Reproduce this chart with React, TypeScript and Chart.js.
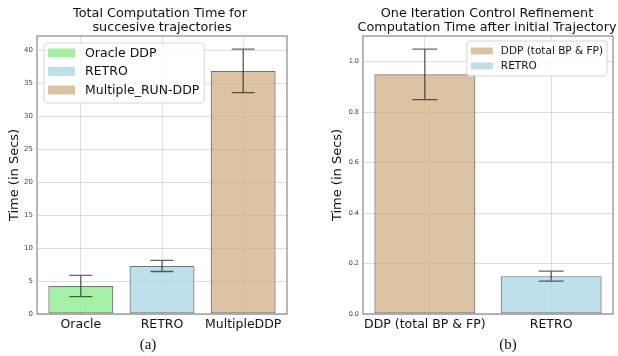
import React, { useEffect, useRef } from "react";
import { Chart, registerables } from "chart.js";

Chart.register(...registerables);

// ---- Data: panel (a) ----
const leftCategories = ["Oracle", "RETRO", "MultipleDDP"];
const leftLegendLabels = ["Oracle DDP", "RETRO", "Multiple_RUN-DDP"];
const leftValues = [4.25, 7.3, 36.9];
const leftErrors = [1.6, 0.85, 3.3];
const leftTicks = [0, 5, 10, 15, 20, 25, 30, 35, 40];
const leftYMax = 42.2;
const leftTitle = "Total Computation Time for\n succesive trajectories";

// ---- Data: panel (b) ----
const rightCategories = ["DDP (total BP & FP)", "RETRO"];
const rightLegendLabels = ["DDP (total BP & FP)", "RETRO"];
const rightValues = [0.95, 0.15];
const rightErrors = [0.1, 0.02];
const rightTicks = [0, 0.2, 0.4, 0.6, 0.8, 1.0];
const rightYMax = 1.102;
const rightTitle = "One Iteration Control Refinement\nComputation Time after initial Trajectory";

const yLabel = "Time (in Secs)";

const GREEN = "rgba(144,238,144,0.8)";
const BLUE = "rgba(173,216,230,0.8)";
const TAN = "rgba(210,180,140,0.8)";
const leftColors = [GREEN, BLUE, TAN];
const rightColors = [TAN, BLUE];

const FONT = '"DejaVu Sans", sans-serif';

type LegendSpec = {
  dx: number;
  dy: number;
  alignRight: boolean;
  fontSize: number;
  rowH: number;
  firstRow: number;
  swW: number;
  swH: number;
  swX: number;
  textX: number;
  padR: number;
  h: number;
};

type PanelSpec = {
  categories: string[];
  legendLabels: string[];
  values: number[];
  errors: number[];
  colors: string[];
  ticks: number[];
  yMax: number;
  xMin: number;
  xMax: number;
  decimals: number;
  padding: { left: number; right: number; top: number; bottom: number };
  yWidth: number;
  xHeight: number;
  yTickSize: number;
  capHalf: number;
  legend: LegendSpec;
};

function makeConfig(p: PanelSpec): any {
  const extras = {
    id: "extras",
    afterDatasetsDraw(chart: any) {
      const ctx = chart.ctx;
      const meta = chart.getDatasetMeta(0);
      const ys = chart.scales.y;
      ctx.save();
      ctx.strokeStyle = "rgba(0,0,0,0.6)";
      ctx.lineWidth = 1.3;
      p.values.forEach((v, i) => {
        const el = meta.data[i];
        if (!el) return;
        const x = el.x;
        const yt = ys.getPixelForValue(v + p.errors[i]);
        const yb = ys.getPixelForValue(v - p.errors[i]);
        ctx.beginPath();
        ctx.moveTo(x, yt);
        ctx.lineTo(x, yb);
        ctx.moveTo(x - p.capHalf, yt);
        ctx.lineTo(x + p.capHalf, yt);
        ctx.moveTo(x - p.capHalf, yb);
        ctx.lineTo(x + p.capHalf, yb);
        ctx.stroke();
      });
      ctx.restore();
    },
    afterDraw(chart: any) {
      const ctx = chart.ctx;
      const a = chart.chartArea;
      ctx.save();
      // frame
      ctx.strokeStyle = "#8a8a8a";
      ctx.lineWidth = 1.2;
      ctx.strokeRect(a.left, a.top, a.right - a.left, a.bottom - a.top);
      // legend
      const L = p.legend;
      ctx.font = `${L.fontSize}px ${FONT}`;
      const maxW = Math.max(...p.legendLabels.map((t) => ctx.measureText(t).width));
      const w = L.textX + maxW + L.padR;
      const bx = L.alignRight ? a.right - L.dx - w : a.left + L.dx;
      const by = a.top + L.dy;
      ctx.beginPath();
      if (ctx.roundRect) ctx.roundRect(bx, by, w, L.h, 3);
      else ctx.rect(bx, by, w, L.h);
      ctx.fillStyle = "rgba(255,255,255,0.8)";
      ctx.fill();
      ctx.strokeStyle = "#d6d6d6";
      ctx.lineWidth = 1;
      ctx.stroke();
      ctx.textBaseline = "middle";
      ctx.textAlign = "left";
      p.legendLabels.forEach((t, i) => {
        const cy = by + L.firstRow + i * L.rowH;
        ctx.fillStyle = p.colors[i];
        ctx.fillRect(bx + L.swX, cy - L.swH / 2, L.swW, L.swH);
        ctx.fillStyle = "#111";
        ctx.fillText(t, bx + L.textX, cy + 0.5);
      });
      ctx.restore();
    },
  };

  return {
    type: "bar",
    data: {
      datasets: [
        {
          data: p.values.map((v, i) => ({ x: i, y: v })),
          backgroundColor: p.colors,
          borderColor: "rgba(0,0,0,0.55)",
          borderWidth: 1.2,
          borderSkipped: false,
          barPercentage: 0.8,
          categoryPercentage: 1.0,
        },
      ],
    },
    options: {
      responsive: false,
      animation: false,
      events: [],
      layout: { padding: p.padding },
      plugins: {
        legend: { display: false },
        tooltip: { enabled: false },
        title: { display: false },
      },
      scales: {
        x: {
          type: "linear",
          min: p.xMin,
          max: p.xMax,
          offset: false,
          afterBuildTicks: (s: any) => {
            s.ticks = p.categories.map((_, i) => ({ value: i }));
          },
          afterFit: (s: any) => {
            s.height = p.xHeight;
          },
          ticks: {
            autoSkip: false,
            maxRotation: 0,
            padding: 3,
            color: "#111",
            font: { family: FONT, size: 12.5 },
            callback: (v: any) => p.categories[Math.round(v)] ?? "",
          },
          grid: { color: "rgba(0,0,0,0.13)", lineWidth: 1, drawTicks: false, offset: false },
          border: { display: false },
        },
        y: {
          type: "linear",
          min: 0,
          max: p.yMax,
          afterBuildTicks: (s: any) => {
            s.ticks = p.ticks.map((v) => ({ value: v }));
          },
          afterFit: (s: any) => {
            s.width = p.yWidth;
          },
          ticks: {
            padding: 4,
            color: "#444",
            font: { family: FONT, size: p.yTickSize },
            callback: (v: any) => Number(v).toFixed(p.decimals),
          },
          grid: { color: "rgba(0,0,0,0.13)", lineWidth: 1, drawTicks: false },
          border: { display: false },
          title: {
            display: true,
            text: yLabel,
            color: "#111",
            font: { family: FONT, size: 13 },
            padding: { top: 0, bottom: 0 },
          },
        },
      },
    },
    plugins: [extras],
  };
}

const leftSpec: PanelSpec = {
  categories: leftCategories,
  legendLabels: leftLegendLabels,
  values: leftValues,
  errors: leftErrors,
  colors: leftColors,
  ticks: leftTicks,
  yMax: leftYMax,
  xMin: -0.54,
  xMax: 2.54,
  decimals: 0,
  padding: { left: 7, right: 13, top: 36, bottom: 6 },
  yWidth: 30,
  xHeight: 20,
  yTickSize: 7,
  capHalf: 11.5,
  legend: {
    dx: 7,
    dy: 7,
    alignRight: false,
    fontSize: 12.5,
    rowH: 18.5,
    firstRow: 10,
    swW: 27,
    swH: 9,
    swX: 4,
    textX: 41,
    padR: 5,
    h: 60,
  },
};

const rightSpec: PanelSpec = {
  categories: rightCategories,
  legendLabels: rightLegendLabels,
  values: rightValues,
  errors: rightErrors,
  colors: rightColors,
  ticks: rightTicks,
  yMax: rightYMax,
  xMin: -0.49,
  xMax: 1.49,
  decimals: 1,
  padding: { left: 20, right: 5, top: 36, bottom: 6 },
  yWidth: 33,
  xHeight: 20,
  yTickSize: 6.5,
  capHalf: 12.5,
  legend: {
    dx: 6,
    dy: 5,
    alignRight: true,
    fontSize: 10.5,
    rowH: 15,
    firstRow: 10,
    swW: 22,
    swH: 7,
    swX: 4,
    textX: 34,
    padR: 4,
    h: 35,
  },
};

function Panel({ spec, left, width }: { spec: PanelSpec; left: number; width: number }) {
  const ref = useRef<HTMLCanvasElement | null>(null);
  useEffect(() => {
    if (!ref.current) return;
    const chart = new Chart(ref.current, makeConfig(spec));
    return () => chart.destroy();
  }, [spec]);
  return (
    <canvas
      ref={ref}
      width={width}
      height={340}
      style={{ position: "absolute", left, top: 0, width, height: 340 }}
    />
  );
}

export default function App() {
  const titleStyle: React.CSSProperties = {
    position: "absolute",
    top: 6,
    fontFamily: FONT,
    fontSize: 12.8,
    lineHeight: "14px",
    textAlign: "center",
    whiteSpace: "pre",
    color: "#111",
  };
  const capStyle: React.CSSProperties = {
    position: "absolute",
    top: 335,
    fontFamily: '"Liberation Serif", serif',
    fontSize: 15,
    lineHeight: "18px",
    textAlign: "center",
    color: "#111",
    width: 40,
  };
  return (
    <div
      style={{
        position: "absolute",
        left: 0,
        top: 0,
        width: 618,
        height: 356,
        background: "#fff",
        overflow: "hidden",
      }}
    >
      <Panel spec={leftSpec} left={0} width={300} />
      <Panel spec={rightSpec} left={310} width={308} />
      <div style={{ ...titleStyle, left: 0, width: 320 }}>{leftTitle}</div>
      <div style={{ ...titleStyle, left: 337, width: 300 }}>{rightTitle}</div>
      <div style={{ ...capStyle, left: 128 }}>(a)</div>
      <div style={{ ...capStyle, left: 488 }}>(b)</div>
    </div>
  );
}
